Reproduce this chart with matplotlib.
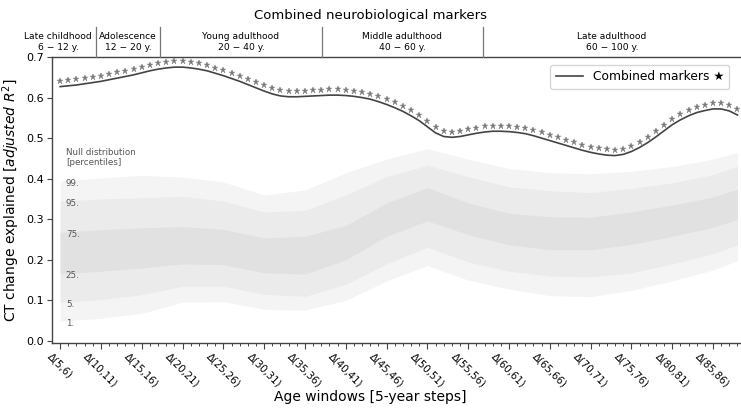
import matplotlib.pyplot as plt
import matplotlib.transforms as mtransforms
import numpy as np

# Age windows, one step per year: Δ(5,6), Δ(6,7), ... Δ(88,89)
window_start = np.arange(5, 89)
tick_ages = np.arange(5, 90, 5)
tick_labels = [f"Δ({a},{a + 1})" for a in tick_ages]

# Combined markers, adjusted R² per window
combined = [
    0.627, 0.629, 0.631, 0.634, 0.637, 0.640, 0.644, 0.648, 0.652, 0.656,
    0.661, 0.666, 0.670, 0.673, 0.675, 0.675, 0.673, 0.670, 0.666, 0.660,
    0.654, 0.647, 0.640, 0.632, 0.624, 0.616, 0.609, 0.604, 0.602, 0.602,
    0.603, 0.604, 0.605, 0.606, 0.606, 0.605, 0.603, 0.600, 0.596, 0.590,
    0.583, 0.575, 0.566, 0.555, 0.543, 0.528, 0.513, 0.504, 0.502, 0.504,
    0.508, 0.512, 0.515, 0.517, 0.517, 0.516, 0.514, 0.511, 0.506, 0.500,
    0.494, 0.488, 0.482, 0.476, 0.470, 0.465, 0.461, 0.458, 0.457, 0.460,
    0.467, 0.477, 0.489, 0.503, 0.518, 0.533, 0.545, 0.555, 0.563, 0.568,
    0.572, 0.572, 0.567, 0.557,
]
significant = [True] * len(combined)

# Null distribution percentiles, sampled every 5 windows
null_ages = [5, 10, 15, 20, 25, 30, 35, 40, 45, 50, 55, 60, 65, 70, 75, 80, 85, 88]
p99 = [0.394, 0.402, 0.408, 0.404, 0.392, 0.360, 0.372, 0.415, 0.448, 0.474,
       0.448, 0.425, 0.415, 0.412, 0.418, 0.430, 0.448, 0.465]
p95 = [0.345, 0.350, 0.353, 0.356, 0.345, 0.318, 0.322, 0.360, 0.405, 0.433,
       0.405, 0.380, 0.370, 0.366, 0.376, 0.390, 0.410, 0.431]
p75 = [0.268, 0.274, 0.279, 0.282, 0.275, 0.254, 0.258, 0.285, 0.340, 0.378,
       0.340, 0.315, 0.306, 0.305, 0.318, 0.335, 0.355, 0.374]
p25 = [0.166, 0.172, 0.180, 0.190, 0.188, 0.168, 0.165, 0.200, 0.258, 0.296,
       0.262, 0.237, 0.225, 0.225, 0.238, 0.258, 0.280, 0.300]
p5 = [0.095, 0.102, 0.114, 0.135, 0.135, 0.115, 0.110, 0.140, 0.190, 0.231,
      0.195, 0.172, 0.160, 0.158, 0.168, 0.190, 0.215, 0.237]
p1 = [0.049, 0.056, 0.068, 0.096, 0.097, 0.078, 0.076, 0.100, 0.148, 0.186,
      0.150, 0.128, 0.112, 0.109, 0.125, 0.148, 0.175, 0.198]

# Life stages shown above the plot (edges in window position units)
stage_names = ["Late childhood", "Adolescence", "Young adulthood",
               "Middle adulthood", "Late adulthood"]
stage_ranges = ["6 − 12 y.", "12 − 20 y.", "20 − 40 y.", "40 − 60 y.", "60 − 100 y."]
stage_edges = [-4.9, 4.4, 12.2, 32.1, 51.8, 83.4]

x = window_start - 5
null_x = np.array(null_ages) - 5

fig = plt.figure(figsize=(7.41, 4.08), dpi=100)
ax = fig.add_axes([52 / 741, 65 / 408, 689 / 741, 286 / 408])

# null distribution bands
ax.fill_between(null_x, p1, p99, color="#f4f4f4", lw=0)
ax.fill_between(null_x, p5, p95, color="#ebebeb", lw=0)
ax.fill_between(null_x, p25, p75, color="#e1e1e1", lw=0)

ax.text(0.7, 0.452, "Null distribution\n[percentiles]", fontsize=6.3,
        color="#555555", va="center", ha="left", linespacing=1.2)
for name, vals in [("99.", p99), ("95.", p95), ("75.", p75),
                   ("25.", p25), ("5.", p5), ("1.", p1)]:
    ax.text(0.7, vals[0] - 0.005, name, fontsize=6.3, color="#555555",
            va="center", ha="left")

# combined markers curve and significance stars
ax.plot(x, combined, color="#444444", lw=1.2, label="Combined markers ★")
star_y = np.array(combined) + 0.014
sig = np.array(significant)
ax.plot(x[sig], star_y[sig], ls="none", marker="*", ms=4.6,
        color="#7a7a7a", mec="#7a7a7a", mew=0.3)

ax.set_xlim(-1, 83.43)
ax.set_ylim(-0.005, 0.7)
ax.set_yticks(np.arange(0, 0.71, 0.1))
ax.set_yticklabels([f"{v:.1f}" for v in np.arange(0, 0.71, 0.1)], fontsize=8)
ax.set_xticks(tick_ages - 5)
ax.set_xticks(x, minor=True)
ax.set_xticklabels(tick_labels, rotation=-45, ha="center", fontsize=7.3)
shift = mtransforms.ScaledTranslation(4 / 100, 2 / 100, fig.dpi_scale_trans)
for lab in ax.get_xticklabels():
    lab.set_transform(lab.get_transform() + shift)
ax.tick_params(axis="x", which="major", length=4, width=0.8, color="#444444", pad=2)
ax.tick_params(axis="x", which="minor", length=2, width=0.7, color="#444444")
ax.tick_params(axis="y", length=3.5, width=0.8, color="#444444", pad=2)
for side in ["left", "bottom", "top"]:
    ax.spines[side].set_color("#444444")
    ax.spines[side].set_linewidth(1.0)
ax.spines["right"].set_visible(False)

ax.set_ylabel("CT change explained [$\\it{adjusted}$ $R^2$]", fontsize=10, labelpad=3)
fig.text(0.5, 0.027, "Age windows [5-year steps]", ha="center", va="center",
         fontsize=10)

leg = ax.legend(loc="upper right", fontsize=8.8, frameon=True, handlelength=2.2,
                borderpad=0.45, bbox_to_anchor=(0.992, 0.995))
leg.get_frame().set_edgecolor("#cccccc")

# life stage header
top = fig.add_axes([52 / 741, 351 / 408, 689 / 741, 30 / 408])
top.set_xlim(ax.get_xlim())
top.set_ylim(0, 1)
top.axis("off")
for e in stage_edges[1:-1]:
    top.plot([e, e], [0, 1], color="#777777", lw=0.9, clip_on=False)
for i, (name, rng) in enumerate(zip(stage_names, stage_ranges)):
    mid = (stage_edges[i] + stage_edges[i + 1]) / 2
    top.text(mid, 0.5, f"{name}\n{rng}", ha="center", va="center",
             fontsize=6.6, clip_on=False, linespacing=1.2)

fig.text(0.5, 0.962, "Combined neurobiological markers", ha="center",
         va="center", fontsize=9.5)

fig.savefig("out.png", dpi=100)
